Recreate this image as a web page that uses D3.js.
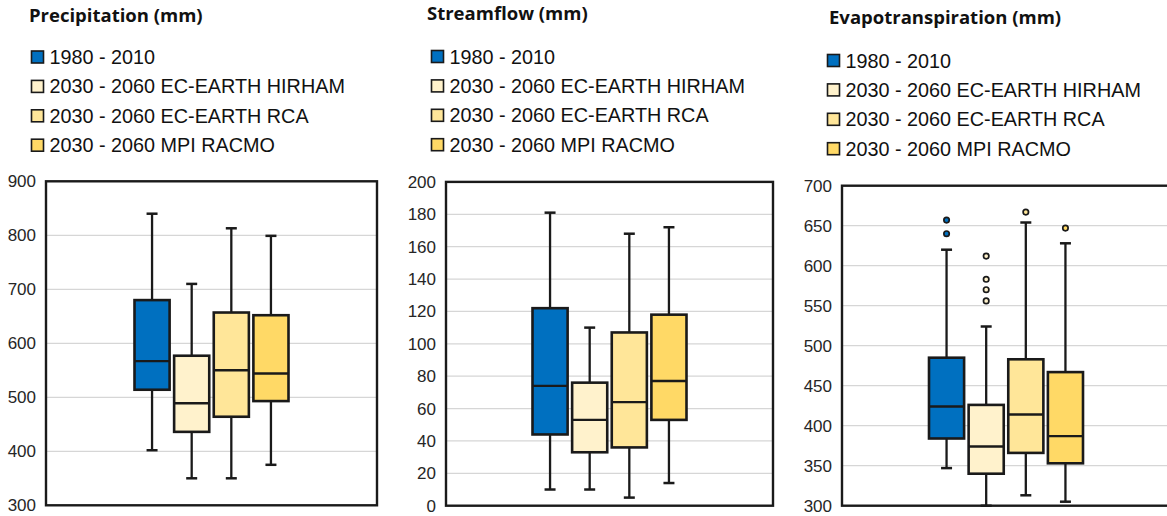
<!DOCTYPE html>
<html>
<head>
<meta charset="utf-8">
<script src="https://cdn.jsdelivr.net/npm/d3@7"></script>
<style>
    body { margin: 0; background: #fff; }
    svg { display: block; }
</style>
</head>
<body>
<div id="graph"></div>
<script>
var WIDTH = 1167;
var HEIGHT = 516;

var series = ["1980 - 2010", "2030 - 2060 EC-EARTH HIRHAM", "2030 - 2060 EC-EARTH RCA", "2030 - 2060 MPI RACMO"];
var colors = ["#0070c0", "#fff2cc", "#ffe699", "#ffd966"];

// each box: [lower whisker, q1, median, q3, upper whisker]
var precipStats = [[402, 514, 567, 680, 840], [350, 436, 489, 577, 710], [350, 464, 550, 657, 813], [375, 493, 544, 652, 799]];
var precipOutliers = [[], [], [], []];
var precipTicks = [300, 400, 500, 600, 700, 800, 900];

var streamStats = [[10, 44, 74, 122, 181], [10, 33, 53, 76, 110], [5, 36, 64, 107, 168], [14, 53, 77, 118, 172]];
var streamOutliers = [[], [], [], []];
var streamTicks = [0, 20, 40, 60, 80, 100, 120, 140, 160, 180, 200];

var evapStats = [[347, 384, 424, 485, 620], [300, 340, 374, 426, 524], [313, 366, 414, 483, 654], [305, 353, 387, 467, 628]];
var evapOutliers = [[640, 657], [556, 570, 583, 612], [667], [647]];
var evapTicks = [300, 350, 400, 450, 500, 550, 600, 650, 700];

var titles = ["Precipitation (mm)", "Streamflow (mm)", "Evapotranspiration (mm)"];

var svg = d3.select("#graph").append("svg")
    .attr("width", WIDTH)
    .attr("height", HEIGHT);

// layout of each panel
var panels = [
    { title: titles[0], stats: precipStats, outliers: precipOutliers, ticks: precipTicks,
      titleX: 29, titleY: 22, legX: 31, legY: 57, left: 46, right: 377, top: 181.3, bottom: 505.3 },
    { title: titles[1], stats: streamStats, outliers: streamOutliers, ticks: streamTicks,
      titleX: 427, titleY: 20, legX: 431, legY: 56.5, left: 446, right: 773, top: 181.9, bottom: 505.7 },
    { title: titles[2], stats: evapStats, outliers: evapOutliers, ticks: evapTicks,
      titleX: 829, titleY: 24, legX: 827, legY: 60.5, left: 842, right: 1170, top: 185.7, bottom: 505.7 }
];

var STROKE = "#1a1a1a";

panels.forEach(drawPanel);

function drawPanel(p) {
    var g = svg.append("g");

    // title
    g.append("text")
        .attr("x", p.titleX)
        .attr("y", p.titleY)
        .attr("font-family", "Open Sans")
        .attr("font-weight", "bold")
        .attr("font-size", "18.5px")
        .attr("fill", "#111")
        .text(p.title);

    // legend
    var leg = g.append("g")
        .selectAll("g")
        .data(series)
        .enter().append("g")
        .attr("transform", function(d, i) { return "translate(" + p.legX + "," + (p.legY + i * 29.4) + ")"; });

    leg.append("rect")
        .attr("x", 0.5)
        .attr("y", -6)
        .attr("width", 12)
        .attr("height", 12)
        .attr("fill", function(d, i) { return colors[i]; })
        .attr("stroke", STROKE)
        .attr("stroke-width", 1.6);

    leg.append("text")
        .attr("x", 18.5)
        .attr("y", 7)
        .attr("font-family", "Liberation Sans, Arial, sans-serif")
        .attr("font-size", "19.8px")
        .attr("fill", "#111")
        .text(function(d) { return d; });

    var ext = d3.extent(p.ticks);
    var y = d3.scaleLinear().domain(ext).range([p.bottom, p.top]);

    var cx = (p.left + p.right) / 2;
    var x = d3.scaleBand()
        .domain(series)
        .range([cx - 77, cx + 77])
        .paddingInner(0.114);

    // gridlines
    g.append("g")
        .selectAll("line")
        .data(p.ticks)
        .enter().append("line")
        .attr("x1", p.left)
        .attr("x2", p.right)
        .attr("y1", function(d) { return y(d); })
        .attr("y2", function(d) { return y(d); })
        .attr("stroke", "#d6d6d6")
        .attr("stroke-width", 1.2);

    // tick labels
    var axis = g.append("g")
        .attr("transform", "translate(" + p.left + ",0)")
        .call(d3.axisLeft(y).tickValues(p.ticks).tickSize(0).tickPadding(10));
    axis.select(".domain").remove();
    axis.selectAll("text")
        .attr("font-family", "Liberation Sans, Arial, sans-serif")
        .attr("font-size", "17px")
        .attr("fill", "#262626");

    // frame
    g.append("rect")
        .attr("x", p.left)
        .attr("y", y(ext[1]))
        .attr("width", p.right - p.left)
        .attr("height", y(ext[0]) - y(ext[1]))
        .attr("fill", "none")
        .attr("stroke", STROKE)
        .attr("stroke-width", 2.4);

    // boxes
    var box = g.append("g")
        .selectAll("g")
        .data(p.stats)
        .enter().append("g");

    box.append("line")
        .attr("x1", function(d, i) { return x(series[i]) + x.bandwidth() / 2; })
        .attr("x2", function(d, i) { return x(series[i]) + x.bandwidth() / 2; })
        .attr("y1", function(d) { return y(d[0]); })
        .attr("y2", function(d) { return y(d[4]); })
        .attr("stroke", STROKE)
        .attr("stroke-width", 2.3);

    [0, 4].forEach(function(k) {
        box.append("line")
            .attr("x1", function(d, i) { return x(series[i]) + x.bandwidth() / 2 - 5.5; })
            .attr("x2", function(d, i) { return x(series[i]) + x.bandwidth() / 2 + 5.5; })
            .attr("y1", function(d) { return y(d[k]); })
            .attr("y2", function(d) { return y(d[k]); })
            .attr("stroke", STROKE)
            .attr("stroke-width", 2.5);
    });

    box.append("rect")
        .attr("x", function(d, i) { return x(series[i]); })
        .attr("y", function(d) { return y(d[3]); })
        .attr("width", x.bandwidth())
        .attr("height", function(d) { return y(d[1]) - y(d[3]); })
        .attr("fill", function(d, i) { return colors[i]; })
        .attr("stroke", STROKE)
        .attr("stroke-width", 2.6);

    box.append("line")
        .attr("x1", function(d, i) { return x(series[i]); })
        .attr("x2", function(d, i) { return x(series[i]) + x.bandwidth(); })
        .attr("y1", function(d) { return y(d[2]); })
        .attr("y2", function(d) { return y(d[2]); })
        .attr("stroke", STROKE)
        .attr("stroke-width", 2.4);

    // outliers
    p.outliers.forEach(function(vals, i) {
        g.append("g")
            .selectAll("circle")
            .data(vals)
            .enter().append("circle")
            .attr("cx", x(series[i]) + x.bandwidth() / 2)
            .attr("cy", function(d) { return y(d); })
            .attr("r", 2.7)
            .attr("fill", colors[i])
            .attr("stroke", STROKE)
            .attr("stroke-width", 1.7);
    });
}
</script>
</body>
</html>
